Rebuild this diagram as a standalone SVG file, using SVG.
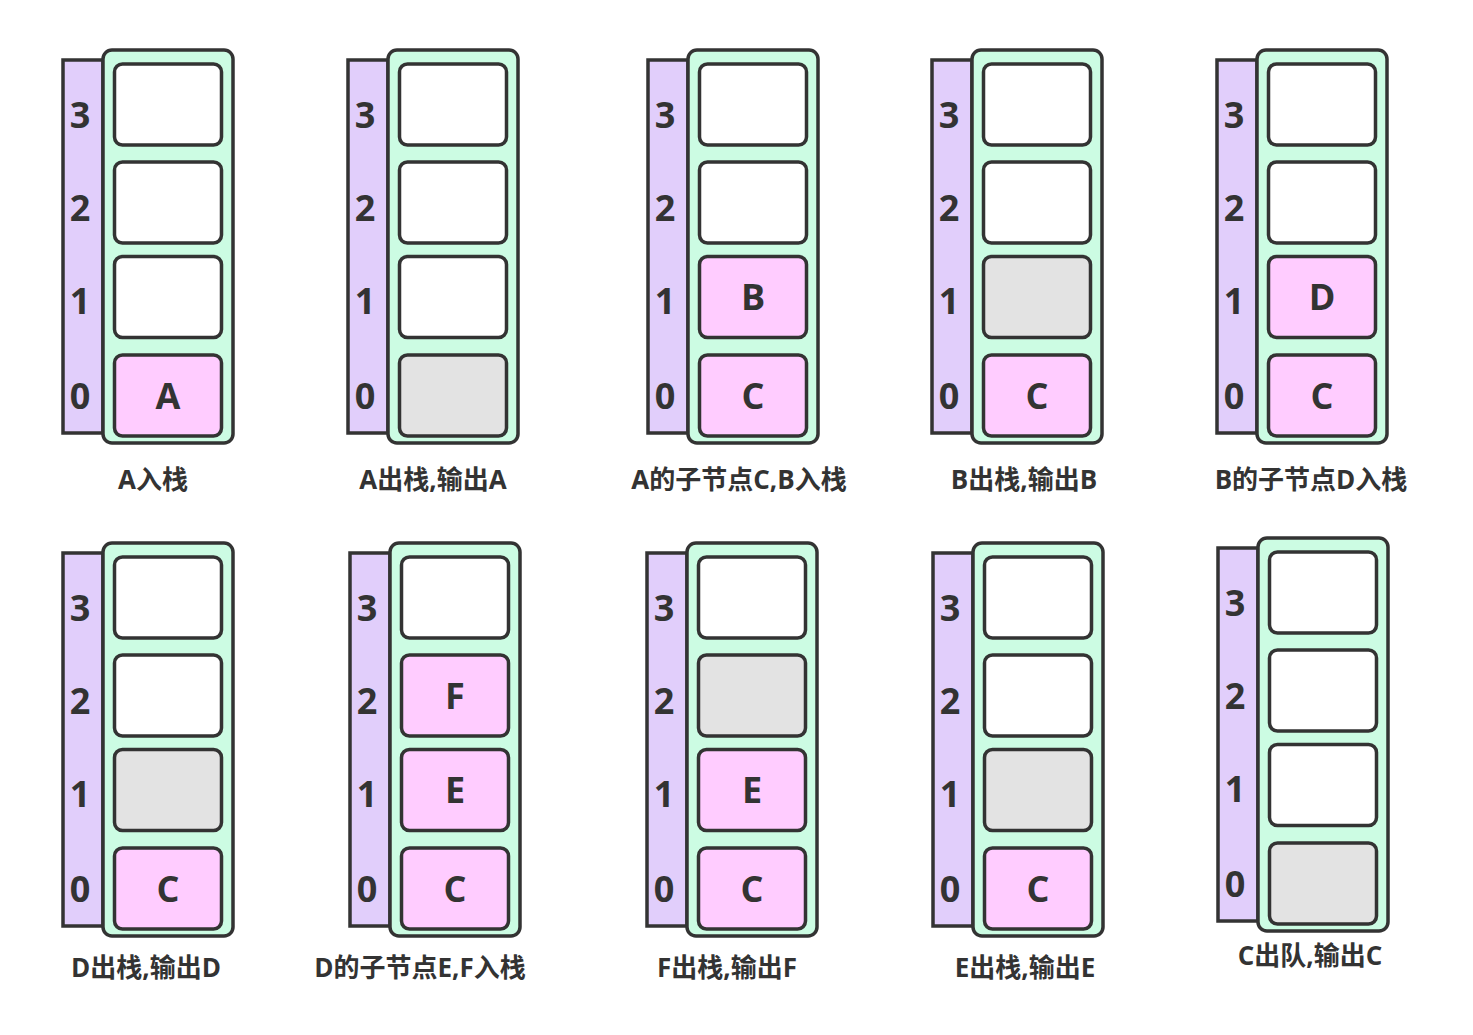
<svg xmlns="http://www.w3.org/2000/svg" xmlns:xlink="http://www.w3.org/1999/xlink" width="1473" height="1035" viewBox="0 0 1473 1035">
<style>
.idx{fill:#E1CEFB;stroke:#333;stroke-width:3.5}
.box{fill:#CCFCE3;stroke:#333;stroke-width:3.5}
.c{stroke:#333;stroke-width:3.5;fill:#fff}
.p{fill:#FFCCFF}
.g{fill:#E3E3E3}
.num{font-family:"Open Sans","Noto Sans","Liberation Sans",sans-serif;font-weight:bold;font-size:36px;fill:#333;text-anchor:middle}
.cap{font-family:"Open Sans","Noto Sans CJK SC",sans-serif;font-weight:bold;font-size:26px;fill:#333;text-anchor:middle}
</style>
<defs>
<g id="base">
<rect class="idx" x="-40" y="10" width="40" height="373"/>
<rect class="box" x="0" y="0" width="130" height="393" rx="9"/>
<text class="num" x="-23" y="78">3</text>
<text class="num" x="-23" y="171">2</text>
<text class="num" x="-23" y="264">1</text>
<text class="num" x="-23" y="359">0</text>
</g>
<rect id="c3" x="11.5" y="14" width="107" height="81" rx="8"/>
<rect id="c2" x="11.5" y="112" width="107" height="81" rx="8"/>
<rect id="c1" x="11.5" y="206.5" width="107" height="81" rx="8"/>
<rect id="c0" x="11.5" y="305" width="107" height="81" rx="8"/>
</defs>

<g id="s1" transform="translate(103,50)">
<use xlink:href="#base"/>
<use xlink:href="#c3" class="c"/><use xlink:href="#c2" class="c"/><use xlink:href="#c1" class="c"/><use xlink:href="#c0" class="c p"/>
<text class="num" x="65" y="358.5">A</text>
</g>
<g id="s2" transform="translate(388,50)">
<use xlink:href="#base"/>
<use xlink:href="#c3" class="c"/><use xlink:href="#c2" class="c"/><use xlink:href="#c1" class="c"/><use xlink:href="#c0" class="c g"/>
</g>
<g id="s3" transform="translate(688,50)">
<use xlink:href="#base"/>
<use xlink:href="#c3" class="c"/><use xlink:href="#c2" class="c"/><use xlink:href="#c1" class="c p"/><use xlink:href="#c0" class="c p"/>
<text class="num" x="65" y="260">B</text>
<text class="num" x="65" y="358.5">C</text>
</g>
<g id="s4" transform="translate(972,50)">
<use xlink:href="#base"/>
<use xlink:href="#c3" class="c"/><use xlink:href="#c2" class="c"/><use xlink:href="#c1" class="c g"/><use xlink:href="#c0" class="c p"/>
<text class="num" x="65" y="358.5">C</text>
</g>
<g id="s5" transform="translate(1257,50)">
<use xlink:href="#base"/>
<use xlink:href="#c3" class="c"/><use xlink:href="#c2" class="c"/><use xlink:href="#c1" class="c p"/><use xlink:href="#c0" class="c p"/>
<text class="num" x="65" y="260">D</text>
<text class="num" x="65" y="358.5">C</text>
</g>

<g id="s6" transform="translate(103,543)">
<use xlink:href="#base"/>
<use xlink:href="#c3" class="c"/><use xlink:href="#c2" class="c"/><use xlink:href="#c1" class="c g"/><use xlink:href="#c0" class="c p"/>
<text class="num" x="65" y="358.5">C</text>
</g>
<g id="s7" transform="translate(390,543)">
<use xlink:href="#base"/>
<use xlink:href="#c3" class="c"/><use xlink:href="#c2" class="c p"/><use xlink:href="#c1" class="c p"/><use xlink:href="#c0" class="c p"/>
<text class="num" x="65" y="165.5">F</text>
<text class="num" x="65" y="260">E</text>
<text class="num" x="65" y="358.5">C</text>
</g>
<g id="s8" transform="translate(687,543)">
<use xlink:href="#base"/>
<use xlink:href="#c3" class="c"/><use xlink:href="#c2" class="c g"/><use xlink:href="#c1" class="c p"/><use xlink:href="#c0" class="c p"/>
<text class="num" x="65" y="260">E</text>
<text class="num" x="65" y="358.5">C</text>
</g>
<g id="s9" transform="translate(973,543)">
<use xlink:href="#base"/>
<use xlink:href="#c3" class="c"/><use xlink:href="#c2" class="c"/><use xlink:href="#c1" class="c g"/><use xlink:href="#c0" class="c p"/>
<text class="num" x="65" y="358.5">C</text>
</g>
<g id="s10" transform="translate(1258,538)">
<use xlink:href="#base"/>
<use xlink:href="#c3" class="c"/><use xlink:href="#c2" class="c"/><use xlink:href="#c1" class="c"/><use xlink:href="#c0" class="c g"/>
</g>

<g id="connectors"></g>

<g id="captions">
<text class="cap" x="153" y="489">A入栈</text>
<text class="cap" x="433" y="489">A出栈,输出A</text>
<text class="cap" x="739" y="489">A的子节点C,B入栈</text>
<text class="cap" x="1024" y="489">B出栈,输出B</text>
<text class="cap" x="1311" y="489">B的子节点D入栈</text>
<text class="cap" x="146" y="977">D出栈,输出D</text>
<text class="cap" x="420" y="977">D的子节点E,F入栈</text>
<text class="cap" x="727" y="977">F出栈,输出F</text>
<text class="cap" x="1025" y="977">E出栈,输出E</text>
<text class="cap" x="1310" y="965">C出队,输出C</text>
</g>
</svg>
